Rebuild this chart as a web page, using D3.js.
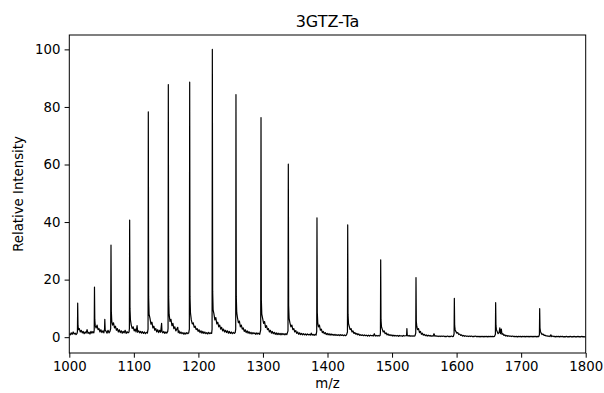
<!DOCTYPE html>
<html>
<head>
<meta charset="utf-8">
<script src="https://cdn.jsdelivr.net/npm/d3@7"></script>
<style>
  body { margin: 0; background: #fff; }
  svg { display: block; font-family: "DejaVu Sans", sans-serif; }
</style>
</head>
<body>
<div id="chart"></div>
<script>
// Chart text
const title = '3GTZ-Ta';
const xLabel = 'm/z';
const yLabel = 'Relative Intensity';
const xTicks = [1000, 1100, 1200, 1300, 1400, 1500, 1600, 1700, 1800];
const yTicks = [0, 20, 40, 60, 80, 100];

// Spectrum as [m/z, relative intensity]
const spectrum = [
  [1000,1.2],[1001.5,0.8],[1003,1.5],[1004.5,1.0],[1006,1.8],[1007.5,1.1],[1009,1.4],[1010.5,0.9],[1012,1.3],[1012.6,2.0],
  [1013,11.8],[1013.5,4.0],[1014.2,2.6],[1015.5,3.0],[1017,1.8],[1018.5,2.4],[1020,1.5],[1021.5,2.0],[1023,1.2],[1024.5,1.8],[1026,1.4],[1027.5,2.6],[1029,1.3],[1030.5,1.7],[1032,1.1],[1033.5,2.0],[1035,1.4],[1036.5,1.9],[1038,1.5],[1038.6,2.5],
  [1039,17.4],[1039.5,6.0],[1040.2,4.0],[1041.5,3.2],[1043,4.2],[1044.5,2.6],[1046,3.0],[1047.5,1.8],[1049,2.6],[1050.5,1.6],[1052,2.2],[1053.5,1.5],[1054.6,2.8],[1055,6.2],[1055.6,2.5],[1057,2.0],[1058.5,1.4],[1060,2.4],[1061.5,1.5],[1063,2.0],[1064.1,3.0],
  [1064.6,32],[1065.1,9],[1065.8,5.5],[1067,4.2],[1068.5,5.0],[1070,3.2],[1071.5,3.8],[1073,2.4],[1074.5,3.0],[1076,1.8],[1077.5,2.6],[1079,1.6],[1080.5,2.2],[1082,1.4],[1083.5,2.0],[1085,1.5],[1086.5,2.4],[1088,1.3],[1089.5,1.9],[1091,1.5],[1092.5,1.8],[1093.1,3.0],
  [1093.5,40.7],[1094,10],[1094.7,6],[1096,4.2],[1097.5,3.0],[1099,3.6],[1100.5,2.2],[1102,2.8],[1103.5,1.8],[1105,4.0],[1106,1.7],[1107.5,2.2],[1109,1.5],[1110.5,2.0],[1112,1.4],[1113.5,1.9],[1115,1.3],[1116.5,1.8],[1118,1.2],[1119.5,1.7],[1121,1.4],[1122,2.8],
  [1122.4,78.3],[1122.9,14],[1123.6,8],[1125,6.5],[1126.5,4.5],[1128,5.2],[1129.5,3.2],[1131,3.8],[1132.5,2.4],[1134,3.0],[1135.5,1.8],[1137,2.6],[1138.5,1.6],[1140,2.4],[1141.5,1.7],[1143,4.8],[1143.6,2.0],[1145,1.5],[1146.5,2.0],[1148,1.3],[1149.5,1.8],[1151,1.4],[1152.5,2.0],[1153,3.0],
  [1153.4,87.8],[1153.9,14],[1154.6,8],[1156,5.5],[1157.5,6.2],[1159,4.0],[1160.5,4.8],[1162,3.0],[1163.5,3.6],[1165,2.2],[1166.5,2.8],[1168,3.4],[1168.8,1.6],[1170,2.2],[1171.5,1.3],[1173,1.8],[1174.5,1.2],[1176,1.6],[1177.5,1.0],[1179,1.5],[1180.5,1.1],[1182,1.6],[1183.5,1.2],[1185,1.5],[1186,2.8],
  [1186.5,88.6],[1187,14],[1187.7,8.5],[1189,6.0],[1190.5,4.6],[1192,5.0],[1193.5,3.4],[1195,3.8],[1196.5,2.6],[1198,3.0],[1199.5,2.0],[1201,2.6],[1202.5,1.6],[1204,2.2],[1205.5,1.4],[1207,2.0],[1208.5,1.3],[1210,1.8],[1211.5,1.2],[1213,1.6],[1214.5,1.1],[1216,1.7],[1217.5,1.2],[1219,1.5],[1220.5,1.3],[1221.2,2.8],
  [1221.6,100],[1222.1,16],[1222.8,9.5],[1224,8.2],[1225.5,6.0],[1227,6.8],[1228.5,4.6],[1230,5.2],[1231.5,3.6],[1233,4.2],[1234.5,2.8],[1236,3.4],[1237.5,2.2],[1239,2.8],[1240.5,1.8],[1242,2.4],[1243.5,1.6],[1245,2.2],[1246.5,1.4],[1248,2.0],[1249.5,1.3],[1251,1.8],[1252.5,1.2],[1254,1.7],[1255.5,1.3],[1257,1.6],[1257.8,2.8],
  [1258.2,84.3],[1258.7,14],[1259.4,8.5],[1260.5,6.8],[1262,5.0],[1263.5,5.6],[1265,3.6],[1266.5,4.2],[1268,2.8],[1269.5,3.2],[1271,2.0],[1272.5,2.6],[1274,1.6],[1275.5,2.2],[1277,1.4],[1278.5,1.9],[1280,1.2],[1281.5,1.7],[1283,1.1],[1284.5,1.6],[1286,1.2],[1287.5,1.5],[1289,1.0],[1290.5,1.5],[1292,1.1],[1293.5,1.4],[1295,1.0],[1296.5,2.5],
  [1297,76.3],[1297.5,13],[1298.2,8],[1299.5,6.5],[1301,4.8],[1302.5,5.4],[1304,3.4],[1305.5,4.0],[1307,2.6],[1308.5,3.0],[1310,1.8],[1311.5,2.4],[1313,1.4],[1314.5,2.0],[1316,1.2],[1317.5,1.7],[1319,1.0],[1320.5,1.5],[1322,0.9],[1323.5,1.4],[1325,0.9],[1326.5,1.3],[1328,0.8],[1329.5,1.3],[1331,0.9],[1332.5,1.2],[1334,0.8],[1335.5,1.2],[1337,0.9],[1338.8,2.2],
  [1339.3,60.1],[1339.8,11],[1340.5,6.5],[1341.8,5.0],[1343.3,3.6],[1344.8,4.2],[1346.3,2.6],[1347.8,3.0],[1349.3,1.8],[1350.8,2.3],[1352.3,1.3],[1353.8,1.8],[1355.3,1.0],[1356.8,1.5],[1358.3,0.9],[1359.8,1.3],[1361.3,0.8],[1362.8,1.2],[1364.3,0.8],[1365.8,1.1],[1367.3,0.7],[1368.8,1.1],[1370.3,0.8],[1371.8,1.0],[1373.3,0.7],[1374.8,1.4],[1376.3,0.7],[1377.8,1.0],[1379.3,0.6],[1380.8,1.0],[1382.3,0.7],[1383.3,2.0],
  [1383.7,41.5],[1384.2,8.5],[1384.9,5.0],[1386,3.6],[1387.5,4.2],[1389,2.4],[1390.5,2.8],[1392,1.6],[1393.5,2.0],[1395,1.2],[1396.5,1.6],[1398,0.9],[1399.5,1.3],[1401,0.8],[1402.5,1.2],[1404,0.7],[1405.5,1.1],[1407,0.7],[1408.5,1.0],[1410,0.6],[1411.5,1.0],[1413,0.6],[1414.5,0.9],[1416,0.6],[1417.5,0.9],[1419,0.5],[1420.5,0.9],[1422,0.6],[1423.5,0.8],[1425,0.5],[1426.5,0.8],[1428,0.5],[1429.5,0.8],[1430.9,1.8],
  [1431.3,39],[1431.8,8],[1432.5,4.8],[1433.6,3.8],[1435,2.6],[1436.5,3.0],[1438,1.8],[1439.5,2.2],[1441,1.3],[1442.5,1.6],[1444,1.0],[1445.5,1.3],[1447,0.8],[1448.5,1.1],[1450,0.6],[1451.5,0.9],[1453,0.6],[1454.5,0.8],[1456,0.5],[1457.5,0.8],[1459,0.5],[1460.5,0.7],[1462,0.4],[1463.5,0.7],[1465,0.4],[1466.5,0.7],[1468,0.5],[1469.5,0.6],[1471,0.4],[1472.5,1.2],[1474,0.4],[1475.5,0.6],[1477,0.4],[1478.5,0.6],[1480,0.4],[1481.5,0.6],[1482,1.5],
  [1482.4,26.9],[1482.9,6],[1483.6,3.6],[1484.8,2.8],[1486.3,1.8],[1487.8,2.2],[1489.3,1.2],[1490.8,1.5],[1492.3,0.8],[1493.8,1.1],[1495.3,0.6],[1496.8,0.9],[1498.3,0.5],[1499.8,0.8],[1501.3,0.4],[1502.8,0.7],[1504.3,0.4],[1505.8,0.6],[1507.3,0.4],[1508.8,0.6],[1510.3,0.3],[1511.8,0.6],[1513.3,0.4],[1514.8,0.5],[1516.3,0.3],[1517.8,0.6],[1519.3,0.4],[1520.8,0.5],[1522.5,0.5],[1523,3.0],[1523.6,0.6],[1525,0.4],[1526.5,0.6],[1528,0.3],[1529.5,0.5],[1531,0.3],[1532.5,0.5],[1534,0.3],[1535.5,0.5],[1536.7,1.4],
  [1537.1,20.7],[1537.6,5.5],[1538.3,3.8],[1539.5,2.6],[1541,3.0],[1542.5,1.6],[1544,2.0],[1545.5,1.0],[1547,1.4],[1548.5,0.7],[1550,1.0],[1551.5,0.5],[1553,0.8],[1554.5,0.4],[1556,0.7],[1557.5,0.4],[1559,0.6],[1560.5,0.3],[1562,0.5],[1563.5,0.3],[1565,1.2],[1566.5,0.3],[1568,0.5],[1569.5,0.3],[1571,0.4],[1572.5,0.2],[1574,0.4],[1575.5,0.2],[1577,0.4],[1578.5,0.3],[1580,0.4],[1581.5,0.2],[1583,0.3],[1584.5,0.2],[1586,0.4],[1587.5,0.2],[1589,0.3],[1590.5,0.2],[1592,0.4],[1593.5,0.2],[1595,0.3],[1596.1,1.2],
  [1596.5,13.5],[1597,4.0],[1597.7,2.6],[1598.8,2.0],[1600.3,1.4],[1601.8,1.6],[1603.3,0.9],[1604.8,1.1],[1606.3,0.6],[1607.8,0.8],[1609.3,0.4],[1610.8,0.6],[1612.3,0.3],[1613.8,0.5],[1615.3,0.3],[1616.8,0.4],[1618.3,0.2],[1619.8,0.4],[1621.3,0.2],[1622.8,0.4],[1624.3,0.2],[1625.8,0.3],[1627.3,0.2],[1628.8,0.4],[1630.3,0.2],[1631.8,0.3],[1633.3,0.2],[1634.8,0.3],[1636.3,0.1],[1637.8,0.3],[1639.3,0.2],[1640.8,0.3],[1642.3,0.1],[1643.8,0.3],[1645.3,0.2],[1646.8,0.3],[1648.3,0.1],[1649.8,0.3],[1651.3,0.2],[1652.8,0.3],[1654.3,0.2],[1655.8,0.3],[1657.3,0.2],[1658.8,0.3],[1660.1,1.0],
  [1660.5,12],[1661,4.0],[1661.7,2.6],[1662.8,2.0],[1664.3,1.2],[1665.8,1.6],[1667,3.2],[1668,1.2],[1669.3,2.8],[1670.3,1.0],[1671.8,1.2],[1673.3,0.6],[1674.8,0.8],[1676.3,0.4],[1677.8,0.6],[1679.3,0.3],[1680.8,0.5],[1682.3,0.3],[1683.8,0.4],[1685.3,0.2],[1686.8,0.4],[1688.3,0.2],[1689.8,0.3],[1691.3,0.2],[1692.8,0.3],[1694.3,0.1],[1695.8,0.3],[1697.3,0.2],[1698.8,0.3],[1700.3,0.1],[1701.8,0.3],[1703.3,0.2],[1704.8,0.3],[1706.3,0.1],[1707.8,0.3],[1709.3,0.2],[1710.8,0.3],[1712.3,0.1],[1713.8,0.3],[1715.3,0.2],[1716.8,0.3],[1718.3,0.1],[1719.8,0.3],[1721.3,0.2],[1722.8,0.3],[1724.3,0.1],[1725.8,0.3],[1727.3,0.2],[1728.3,0.9],
  [1728.7,9.9],[1729.2,3.2],[1729.9,2.0],[1731,1.4],[1732.5,0.9],[1734,1.1],[1735.5,0.6],[1737,0.7],[1738.5,0.4],[1740,0.5],[1741.5,0.3],[1743,0.4],[1744.5,0.2],[1746,0.8],[1747.5,0.2],[1749,0.4],[1750.5,0.2],[1752,0.3],[1753.5,0.1],[1755,0.3],[1756.5,0.2],[1758,0.3],[1759.5,0.1],[1761,0.3],[1762.5,0.2],[1764,0.3],[1765.5,0.1],[1767,0.2],[1768.5,0.1],[1770,0.3],[1771.5,0.1],[1773,0.2],[1774.5,0.1],[1776,0.3],[1777.5,0.1],[1779,0.2],[1780.5,0.1],[1782,0.3],[1783.5,0.1],[1785,0.2],[1786.5,0.1],[1788,0.3],[1789.5,0.1],[1791,0.2],[1792.5,0.1],[1794,0.3],[1795.5,0.1],[1797,0.2],[1798.5,0.1],[1800,0.2]
];

const width = 604;
const height = 393;
const margin = { top: 35, right: 18.3, bottom: 40, left: 69.3 };
const innerW = width - margin.left - margin.right;
const innerH = height - margin.top - margin.bottom;

const svg = d3.select('#chart')
  .append('svg')
  .attr('width', width)
  .attr('height', height);

const g = svg.append('g')
  .attr('transform', `translate(${margin.left},${margin.top})`);

const x = d3.scaleLinear().domain([1000, 1800]).range([0, innerW]);
const y = d3.scaleLinear().domain([-5.5, 105]).range([innerH, 0]);

// Spectrum trace, clipped to the axes box
g.append('clipPath').attr('id', 'plot-clip')
  .append('rect').attr('width', innerW).attr('height', innerH);

const line = d3.line()
  .x(d => x(d[0]))
  .y(d => y(d[1]));

g.append('path')
  .datum(spectrum)
  .attr('clip-path', 'url(#plot-clip)')
  .attr('fill', 'none')
  .attr('stroke', '#000')
  .attr('stroke-width', 1.2)
  .attr('stroke-linejoin', 'round')
  .attr('d', line);

// Axes
const tickLen = 4.7;
const xAxis = g.append('g')
  .attr('transform', `translate(0,${innerH})`)
  .call(d3.axisBottom(x).tickValues(xTicks).tickSize(tickLen).tickPadding(4.2).tickFormat(d3.format('d')));

const yAxis = g.append('g')
  .call(d3.axisLeft(y).tickValues(yTicks).tickSize(tickLen).tickPadding(4.2).tickFormat(d3.format('d')));

[xAxis, yAxis].forEach(a => {
  a.select('.domain').remove();
  a.selectAll('line').attr('stroke', '#000').attr('stroke-width', 1);
  a.selectAll('text')
    .attr('fill', '#000')
    .style('font-family', '"DejaVu Sans", sans-serif')
    .style('font-size', '13.3px');
});

// Frame
g.append('rect')
  .attr('width', innerW)
  .attr('height', innerH)
  .attr('fill', 'none')
  .attr('stroke', '#000')
  .attr('stroke-width', 1);

// Title and labels
svg.append('text')
  .attr('x', margin.left + innerW / 2)
  .attr('y', 27)
  .attr('text-anchor', 'middle')
  .style('font-size', '16px')
  .text(title);

svg.append('text')
  .attr('x', margin.left + innerW / 2)
  .attr('y', 388)
  .attr('text-anchor', 'middle')
  .style('font-size', '13.3px')
  .text(xLabel);

svg.append('text')
  .attr('transform', `translate(23,${margin.top + innerH / 2}) rotate(-90)`)
  .attr('text-anchor', 'middle')
  .style('font-size', '13.3px')
  .text(yLabel);
</script>
</body>
</html>
